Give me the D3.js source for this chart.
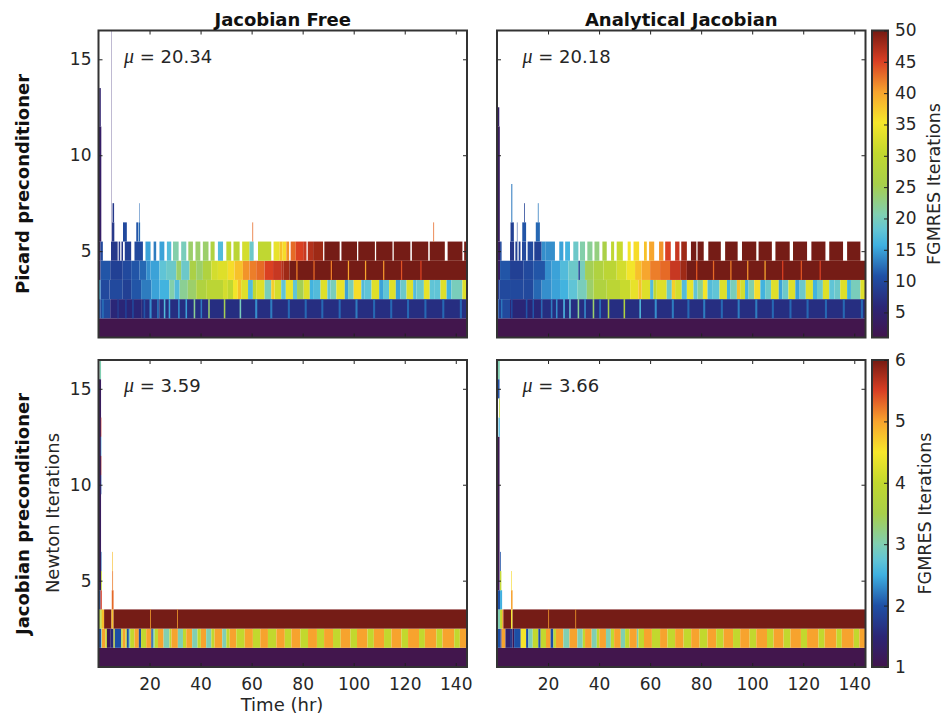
<!DOCTYPE html>
<html lang="en">
<head>
  <meta charset="UTF-8">
  <title>FGMRES iterations heatmaps</title>
  <script src="https://d3js.org/d3.v7.min.js"></script>
  <style>
    html, body { margin: 0; padding: 0; background: #fff; }
    svg text { font-family: "DejaVu Sans", sans-serif; fill: #262626; }
    .tick text { font-size: 17px; }
    .tick line { stroke: #222; }
    .domain { stroke: none; }
  </style>
</head>
<body>
  <div id="chart"></div>
  <script>
    const width = 943, height = 719;

    // colour ramp, position along the colorbar (0-1) and colour
    const rampStops = [0, 0.1, 0.2, 0.3, 0.35, 0.4, 0.5, 0.6, 0.7, 0.8, 0.9, 1];
    const rampColors = ["#42154d", "#2b2676", "#1f50a5", "#3fb0e0", "#62c5d5", "#80cfb2", "#a8cf4a",
                        "#c2d82e", "#f6e62a", "#f7a32e", "#d93f24", "#751a12"];

    const timeTicks = [20, 40, 60, 80, 100, 120, 140];
    const newtonTicks = [5, 10, 15];
    const picardBarTicks = [5, 10, 15, 20, 25, 30, 35, 40, 45, 50];
    const jacobianBarTicks = [1, 2, 3, 4, 5, 6];
    const picardRange = [1, 50];
    const jacobianRange = [1, 6];
    const timeMax = 144.4;

    // Rows are runs of [end time in hr, FGMRES iterations], null means no cell there
    // Stripes are [start, end, iterations], spikes are [start, end, first row, last row, iterations]

    // Picard preconditioner, Jacobian free
    const pfRow5 = [[.8,3],[1.7,10],[4.9,null],[7.5,8],[7.9,null],[8.5,8],[9,null],[9.6,8],[10.3,null],[12.8,9],[14.1,null],[17.4,10],[18.4,null],[20.4,15],[21.6,null],[22.6,13],[23.9,null],[25.8,15],[26.8,null],[28.5,17],[29.2,null],[31.4,21],[32.4,null],[34.4,20],[35.2,null],[37,24],[38,null],[39.9,24],[40.9,null],[43.1,24],[43.9,null],[45.5,27],[46.8,null],[48.8,17],[50.1,null],[52,30],[52.9,null],[55.3,29],[56.3,null],[59.2,32],[60.8,19],[62.5,null],[67.7,30],[68.6,null],[71,34],[72,38],[73.6,36],[74.7,41],[75.3,null],[77.3,43],[80.2,45],[81.5,46],[82,null],[84.1,47],[88,48],[88.5,null],[94.5,50],[95.2,null],[101.3,50],[101.8,null],[108.3,50],[108.8,null],[115.2,50],[115.7,null],[122.2,50],[122.8,null],[129.2,50],[129.8,null],[135.7,50],[136.8,null],[142.6,50],[143.3,null],[144.4,50]];
    const pfRow4 = [[.8,3],[4.6,11],[9.5,9],[12.8,10],[16.1,11],[18.7,12],[20.4,14],[23.9,15],[26.5,18],[30.5,19],[32.4,24],[35.7,19],[38.3,26],[40.9,24],[44.2,27],[46.8,32],[50.7,33],[53.3,36],[56.6,38],[59.2,41],[61.8,42],[65.1,43],[68.4,45],[71.6,46],[72.6,47],[74.9,48],[144.4,50]];
    const pfRow3 = [[.8,16],[4.3,10],[9.5,10],[12.8,9],[16.7,11],[20.7,13],[23.9,15],[27.8,16],[29.8,21],[31.8,17],[35,22],[38.3,24],[42.2,27],[48.8,29],[50.7,32],[52.7,30],[54.6,35],[55.9,38],[58.6,33],[60.5,17],[61.8,30],[65.1,33],[67.7,20],[69,37],[71.6,32],[73.4,18],[76.2,34],[77.8,18],[80.4,25],[82.8,33],[84.1,16],[87,17],[89.7,33],[90.9,18],[93.2,20],[96.5,34],[97.8,15],[100,20],[103,36],[104.3,17],[107,18],[110,33],[111.5,15],[113.9,18],[116.5,33],[118.3,15],[120.7,19],[123.3,33],[124.6,17],[127.5,19],[129.8,34],[131.8,18],[134,18],[136.4,33],[138.3,16],[142.6,20],[144.4,33]];
    const pfRow2 = [[.7,11],[4.6,10],[17,6],[24,7],[144.4,7]];
    const pfRow1 = [[144.4,1]];
    const pfRow2Stripes = [[1.5,2,13],[7.4,7.9,9],[10.5,11,10],[13.2,13.8,10],[17.7,18.3,11],[20,20.8,14],[23,23.6,13],[25.6,26.2,17],[27.5,28.1,15],[31.2,31.8,14],[34.1,34.7,15],[37.3,37.9,22],[40,40.6,13],[43,43.6,24],[49.1,49.7,25],[55.3,55.9,20],[61.4,62.2,14],[67.3,68.1,13],[74.2,75,12],[80.8,81.6,12],[87.3,88.1,12],[94.1,94.9,12],[100.7,101.5,13],[107.6,108.4,12],[114.3,115.1,12],[120.9,121.7,12],[127.7,128.5,12],[134.7,135.5,12],[141.6,142.4,12]];
    const pfRow4Stripes = [[77.5,78,42],[84.2,84.7,43],[91,91.5,42],[97.7,98.2,40],[104.4,104.9,40],[111.5,112,41],[118.5,119,44],[126.1,126.6,45]];
    const pfSpikes = [[0,1.1,6,11,4],[.3,.9,12,13,5],[5.05,5.17,6,16,5],[5.3,6.2,6,6,8],[5.5,6.1,7,7,8],[9.6,11.1,6,6,10],[14.8,15.5,6,6,11],[15.7,16.3,6,6,12],[16,16.2,7,7,12],[60.3,60.6,6,6,43],[131.2,131.5,6,6,43]];

    // Picard preconditioner, analytical Jacobian
    const paRow5 = [[1.2,3],[1.8,10],[5.1,null],[6.7,8],[7.2,null],[8,9],[8.5,null],[9.2,9],[9.8,null],[11.4,10],[12,null],[14.2,10],[14.6,null],[17.5,9],[19.1,14],[22.7,14],[24.4,null],[26,15],[26.7,null],[28.6,16],[29.9,null],[31.9,19],[32.5,null],[34.5,21],[35.4,null],[37.4,22],[38.2,null],[40.1,23],[41.3,null],[43,26],[44.7,null],[45.9,30],[46.9,null],[49.3,31],[51.2,null],[52.4,35],[53.5,null],[55.7,36],[57.6,null],[58.7,38],[59.6,null],[61.6,40],[63.5,null],[65.2,41],[65.9,null],[68.1,45],[69.8,null],[71.5,46],[72.2,null],[74.4,48],[76,null],[78.1,50],[78.6,null],[81,50],[82.8,null],[87.7,50],[89.4,null],[94.3,50],[96,null],[101.6,50],[102.5,null],[107.7,50],[109.1,null],[114.7,50],[116,null],[121.5,50],[123.2,null],[128.7,50],[130.2,null],[135.6,50],[137.2,null],[142.4,50],[144.1,null]];
    const paRow4 = [[1.2,3],[5.1,11],[10.3,9],[14.2,10],[18.8,11],[21.4,14],[24.7,15],[28,17],[31.9,19],[32.5,9],[34.5,20],[37.8,25],[41.7,27],[46.9,29],[50.8,32],[54.1,35],[56.7,38],[60,40],[63.9,42],[67.8,43],[71.8,46],[74.4,48],[144.4,50]];
    const paRow3 = [[.9,8],[5.1,10],[10.3,10],[14.2,10],[17.5,12],[21.4,14],[24.7,15],[28,16],[31.5,18],[35.2,20],[37.8,24],[43,27],[48.2,29],[52.2,31],[55.4,34],[56.7,38],[60,33],[61.3,17],[62.6,30],[66.5,33],[68.5,19],[69.8,37],[72.4,32],[74.4,17],[77,34],[78.6,18],[80.7,22],[82.5,35],[84.3,17],[87.2,18],[90.1,33],[91.4,16],[94,20],[95.3,38],[97.2,32],[98.6,16],[100.8,21],[103.2,36],[105.1,16],[107.4,19],[110.4,33],[111.8,15],[114.2,19],[116.9,33],[118.6,15],[121,19],[123.8,33],[125.4,16],[127.7,19],[130.2,33],[132.2,18],[134.5,19],[137.2,33],[138.7,16],[142.4,20],[144.4,33]];
    const paRow2 = [[.7,11],[1.6,9],[5.1,10],[18,6],[26,7],[144.4,7]];
    const paRow1 = [[144.4,1]];
    const paRow2Stripes = [[1.6,2.1,13],[5.5,6.1,10],[11.3,11.9,11],[13.9,14.5,11],[17.2,17.8,12],[21.1,21.7,13],[23.1,23.7,14],[26,26.6,16],[28.3,28.9,18],[31.6,32.2,22],[34.2,34.8,14],[37.5,38.1,24],[40.1,40.7,13],[43.4,44,26],[49.6,50.2,27],[55.8,56.4,17],[61.8,62.6,14],[68.5,69.3,13],[74.6,75.4,12],[80.8,81.6,13],[87.7,88.5,12],[94.3,95.1,13],[101.2,102,13],[107.7,108.5,12],[114.6,115.4,12],[121.3,122.1,12],[128.5,129.3,12],[135.5,136.3,12],[142.6,143.4,12]];
    const paRow4Stripes = [[78,78.5,44],[84.6,85.1,43],[91.4,91.9,42],[98,98.5,41],[104.8,105.3,40],[111.7,112.2,45],[119,119.5,44],[126.4,126.9,45]];
    const paSpikes = [[0,1.1,6,11,3],[.3,.9,12,12,4],[5.3,6.6,6,6,9],[5.6,6,7,8,13],[7.8,8,6,6,9],[9.9,11.4,6,6,11],[10.6,10.9,7,7,9],[15.2,16.8,6,6,12],[16,16.3,7,7,13]];

    // Jacobian preconditioner, Jacobian free
    const jfRow3 = [[.8,3.6],[1.3,4],[2.2,4.8],[5.1,6],[5.9,4.8],[144.4,6]];
    const jfRow2 = [[1,2],[1.3,3],[2.7,5],[3.3,4],[4.8,1.1],[5.9,1.5],[6.4,4],[8.9,2],[9.5,4],[10.6,5],[11.1,4],[11.9,2],[12.4,3],[14.1,4],[15.8,5],[16.7,2],[18.7,4],[20.7,5],[21.3,2],[22,3],[23.3,4],[25.5,5],[27.8,3],[28.6,4],[31.1,5],[33.1,3],[34.4,4],[36.7,5],[38.8,3],[40.1,4],[42.2,5],[44.2,3],[45.5,4],[48.5,5],[50.1,3],[51.4,4],[54,5],[57.3,4],[60.5,5],[63.4,4],[66.4,5],[69.7,4],[73,5],[75.6,4],[79.1,5],[82.1,4],[85.6,5],[88.4,4],[91.9,5],[94.9,4],[98.7,5],[101.3,4],[105.4,5],[107.9,4],[111.9,5],[114.8,4],[118.7,5],[121.3,4],[125.6,5],[127.9,4],[132.4,5],[134.8,4],[139.4,5],[141.6,4],[144.4,5]];
    const jfRow1 = [[144.4,1]];
    const jfRow3Stripes = [[20.2,20.5,5],[30.8,31.1,5]];
    const jfSpikes = [[0,.8,4,4,2],[.8,1.3,4,4,5.5],[0,1,5,15,1.2],[1,1.3,5,5,4],[1,1.2,6,6,2.2],[.4,1,16,16,3],[.9,1.1,13,13,5.5],[.9,1.1,12,12,2.5],[.9,1.1,11,11,5.8],[.9,1.1,10,10,2],[5.2,5.9,4,4,5.3],[5.4,5.7,5,5,5.2],[5.4,5.65,6,6,4.8]];

    // Jacobian preconditioner, analytical Jacobian
    const jaRow3 = [[1.2,3],[2,4],[2.5,5],[5.5,6],[6.1,4.5],[144.4,6]];
    const jaRow2 = [[1.4,2],[1.8,1.5],[3.3,5],[5.1,1.4],[6.1,1.7],[6.7,1.1],[9.3,2],[11.4,4.5],[12.3,2],[14,3],[16.2,4],[17.1,2],[19.2,4],[21,5],[22.1,2],[23.1,4],[26,5],[28.4,3],[31.5,5],[33.6,3],[34.5,4],[37.1,5],[39.1,3],[40.1,4],[42.7,5],[44.6,3],[45.9,4],[48.5,5],[50.2,3],[51.9,4],[54.8,5],[55.4,3],[57.6,4],[60.7,5],[63.9,4],[66.8,5],[69.8,4],[73.1,5],[76.1,4],[79.4,5],[82.5,4],[85.9,5],[88.8,4],[92.5,5],[95.3,4],[99,5],[101.6,4],[105.8,5],[108.4,4],[112.3,5],[115,4],[119.1,5],[121.5,4],[126,5],[128.4,4],[133,5],[135.1,4],[139.8,5],[142,4],[144.4,5]];
    const jaRow1 = [[144.4,1]];
    const jaRow3Stripes = [[20.1,20.4,5],[30.7,31,5]];
    const jaSpikes = [[0,1.2,4,4,2],[1.2,2,4,4,2.5],[0,1,5,12,1.1],[1.2,1.7,5,5,4],[1.2,1.5,6,6,2],[.6,1.1,13,13,2.6],[.8,1.1,14,14,3.8],[.4,1,15,15,2],[.4,1.1,16,16,3],[5.5,6.1,4,4,5],[5.6,5.85,5,5,4.6]];

    const panels = [
      { title: "Jacobian Free", mu: "20.34", left: 98.5, top: 30.5, range: picardRange,
        rows: [pfRow1, pfRow2, pfRow3, pfRow4, pfRow5],
        stripes: [[2, pfRow2Stripes], [4, pfRow4Stripes]], spikes: pfSpikes, yLabels: true, xLabels: false },
      { title: "Analytical Jacobian", mu: "20.18", left: 497, top: 30.5, range: picardRange,
        rows: [paRow1, paRow2, paRow3, paRow4, paRow5],
        stripes: [[2, paRow2Stripes], [4, paRow4Stripes]], spikes: paSpikes, yLabels: false, xLabels: false },
      { title: null, mu: "3.59", left: 98.5, top: 360, range: jacobianRange,
        rows: [jfRow1, jfRow2, jfRow3],
        stripes: [[3, jfRow3Stripes]], spikes: jfSpikes, yLabels: true, xLabels: true },
      { title: null, mu: "3.66", left: 497, top: 360, range: jacobianRange,
        rows: [jaRow1, jaRow2, jaRow3],
        stripes: [[3, jaRow3Stripes]], spikes: jaSpikes, yLabels: false, xLabels: true }
    ];

    const panelWidth = 368.5, panelHeight = 307;

    const ramp = d3.scaleLinear().domain(rampStops).range(rampColors);

    const svg = d3.select("#chart")
      .append("svg")
      .attr("width", width)
      .attr("height", height);

    const defs = svg.append("defs");

    // the source picture is a little soft, this also closes the seams between cells
    defs.append("filter")
      .attr("id", "soft")
      .attr("x", "-2%").attr("y", "-2%").attr("width", "104%").attr("height", "104%")
      .append("feGaussianBlur")
      .attr("stdDeviation", 0.45);

    const gradient = defs.append("linearGradient")
      .attr("id", "ramp")
      .attr("x1", "0%").attr("x2", "0%").attr("y1", "100%").attr("y2", "0%");
    gradient.selectAll("stop")
      .data(rampStops)
      .join("stop")
      .attr("offset", d => d * 100 + "%")
      .attr("stop-color", d => ramp(d));

    // turn the run lists, stripes and spikes of a panel into flat cells
    function panelCells(p) {
      const cells = [];
      p.rows.forEach((runs, i) => {
        let start = 0;
        runs.forEach(([end, value]) => {
          if (value !== null) cells.push({ t0: start, t1: end, r0: i + 1, r1: i + 1, value });
          start = end;
        });
      });
      p.stripes.forEach(([row, list]) => {
        list.forEach(([t0, t1, value]) => cells.push({ t0, t1, r0: row, r1: row, value }));
      });
      p.spikes.forEach(([t0, t1, r0, r1, value]) => cells.push({ t0, t1, r0, r1, value }));
      return cells;
    }

    panels.forEach(p => {
      const x = d3.scaleLinear().domain([0, timeMax]).range([p.left, p.left + panelWidth]);
      const y = d3.scaleLinear().domain([0.5, 16.5]).range([p.top + panelHeight, p.top]);
      const color = v => ramp((v - p.range[0]) / (p.range[1] - p.range[0]));
      const clipId = "clip" + panels.indexOf(p);

      defs.append("clipPath").attr("id", clipId)
        .append("rect")
        .attr("x", p.left).attr("y", p.top)
        .attr("width", panelWidth).attr("height", panelHeight);

      svg.append("g")
        .attr("clip-path", `url(#${clipId})`)
        .append("g")
        .attr("filter", "url(#soft)")
        .selectAll("rect")
        .data(panelCells(p))
        .join("rect")
        .attr("x", d => x(d.t0))
        .attr("y", d => y(d.r1 + 0.5))
        .attr("width", d => x(d.t1) - x(d.t0))
        .attr("height", d => y(d.r0 - 0.5) - y(d.r1 + 0.5))
        .attr("fill", d => color(d.value));

      // ticks point inwards on all four sides
      svg.append("g")
        .attr("transform", `translate(${p.left},0)`)
        .call(d3.axisLeft(y).tickValues(newtonTicks).tickSize(-4).tickPadding(7)
          .tickFormat(p.yLabels ? d3.format("d") : ""));
      svg.append("g")
        .attr("transform", `translate(${p.left + panelWidth},0)`)
        .call(d3.axisRight(y).tickValues(newtonTicks).tickSize(-4).tickFormat(""));
      svg.append("g")
        .attr("transform", `translate(0,${p.top + panelHeight})`)
        .call(d3.axisBottom(x).tickValues(timeTicks).tickSize(-4).tickPadding(11)
          .tickFormat(p.xLabels ? d3.format("d") : ""));
      svg.append("g")
        .attr("transform", `translate(0,${p.top})`)
        .call(d3.axisTop(x).tickValues(timeTicks).tickSize(-4).tickFormat(""));

      svg.append("rect")
        .attr("x", p.left).attr("y", p.top)
        .attr("width", panelWidth).attr("height", panelHeight)
        .attr("fill", "none")
        .attr("stroke", "#333")
        .attr("stroke-width", 2);

      const mu = svg.append("text")
        .attr("x", p.left + 25.5)
        .attr("y", p.top + 32)
        .attr("font-size", 18);
      mu.append("tspan")
        .style("font-family", '"Liberation Serif", serif')
        .style("font-style", "italic")
        .attr("font-size", 20)
        .text("μ");
      mu.append("tspan").text(" = " + p.mu);

      if (p.title) {
        svg.append("text")
          .attr("x", p.left + panelWidth / 2)
          .attr("y", 26)
          .attr("text-anchor", "middle")
          .attr("font-size", 18)
          .attr("font-weight", "bold")
          .attr("style", "fill:#111")
          .text(p.title);
      }
    });

    // Colorbars
    const barLeft = 872, barWidth = 16;
    [
      { top: 30.5, range: picardRange, ticks: picardBarTicks, labelX: 940 },
      { top: 360, range: jacobianRange, ticks: jacobianBarTicks, labelX: 931 }
    ].forEach(b => {
      const scale = d3.scaleLinear().domain(b.range).range([b.top + panelHeight, b.top]);

      svg.append("rect")
        .attr("x", barLeft).attr("y", b.top)
        .attr("width", barWidth).attr("height", panelHeight)
        .attr("fill", "url(#ramp)")
        .attr("stroke", "#333")
        .attr("stroke-width", 2);

      svg.append("g")
        .attr("transform", `translate(${barLeft + barWidth},0)`)
        .call(d3.axisRight(scale).tickValues(b.ticks).tickSize(-4).tickPadding(7).tickFormat(d3.format("d")));

      svg.append("text")
        .attr("transform", `translate(${b.labelX},${b.top + panelHeight / 2}) rotate(-90)`)
        .attr("text-anchor", "middle")
        .attr("font-size", 17.5)
        .text("FGMRES Iterations");
    });

    // Outer labels
    const rotated = (xPos, yPos, label, bold) => svg.append("text")
      .attr("transform", `translate(${xPos},${yPos}) rotate(-90)`)
      .attr("text-anchor", "middle")
      .attr("font-size", bold ? 18 : 18)
      .attr("font-weight", bold ? "bold" : "normal")
      .attr("style", bold ? "fill:#111" : null)
      .text(label);

    rotated(29, 184, "Picard preconditioner", true);
    rotated(29, 514, "Jacobian preconditioner", true);
    rotated(59, 513, "Newton Iterations", false);

    svg.append("text")
      .attr("x", 282)
      .attr("y", 711)
      .attr("text-anchor", "middle")
      .attr("font-size", 18)
      .text("Time (hr)");
  </script>
</body>
</html>
